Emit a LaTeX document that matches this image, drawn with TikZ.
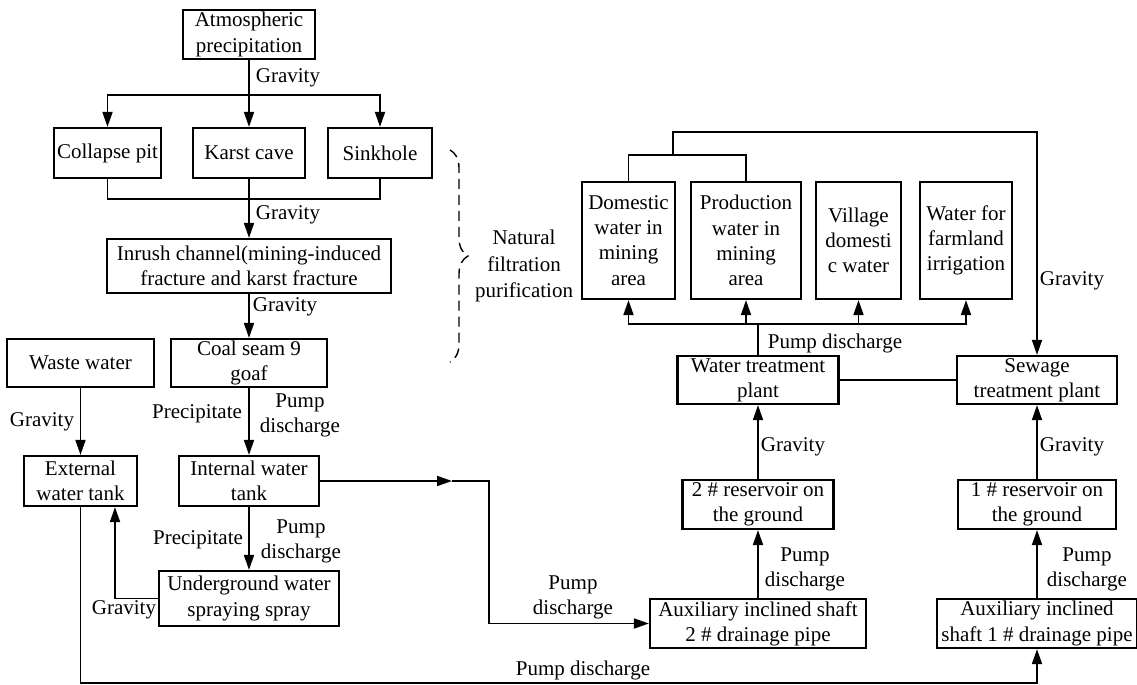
\documentclass[tikz,border=0pt]{standalone}
\usepackage{fontspec}
\setmainfont{LiberationSerif}[Extension=.ttf, UprightFont=*-Regular, BoldFont=*-Bold]
\usetikzlibrary{arrows.meta, calc, decorations.pathreplacing}

\tikzset{
  box/.style={draw, line width=1.1pt, inner xsep=1pt, inner ysep=0pt, align=center, font=\fontsize{10.5}{12.6}\selectfont},
  lbl/.style={inner sep=0pt, align=center, font=\fontsize{10.5}{12.6}\selectfont},
}

\begin{document}
\begin{tikzpicture}[x=0.5pt, y=-0.5pt, line width=0.9pt, >={Triangle[length=7.5pt,width=5pt]}]
        \useasboundingbox (0,0) rectangle (1137,685);

        % left part: precipitation down to the goaf
        \node[box, minimum width=66pt, minimum height=24.5pt] (atm) at (249,34.5) {Atmospheric\\precipitation};
        \node[box, minimum width=53.5pt, minimum height=25pt] (pit) at (107.5,153) {Collapse pit};
        \node[box, minimum width=56pt, minimum height=25pt] (cave) at (249,153) {Karst cave};
        \node[box, minimum width=52pt, minimum height=25pt] (sink) at (380,153) {Sinkhole};
        \node[box, minimum width=142pt, minimum height=27pt] (inrush) at (249,266) {Inrush channel(mining-induced\\fracture and karst fracture};
        \node[box, minimum width=78pt, minimum height=24pt] (coal) at (249,363) {Coal seam 9\\goaf};
        \node[box, minimum width=73.5pt, minimum height=24pt] (waste) at (80.5,363) {Waste water};
        \node[box, minimum width=56.5pt, minimum height=25pt] (ext) at (80.5,481) {External\\water tank};
        \node[box, minimum width=70pt, minimum height=25pt] (int) at (249,481) {Internal water\\tank};
        \node[box, minimum width=90pt, minimum height=27.5pt] (under) at (249,598.5) {Underground water\\spraying spray};

        % right part
        \node[box, minimum width=108pt, minimum height=24.5pt] (aux2) at (758,623.5) {Auxiliary inclined shaft\\2 \# drainage pipe};
        \node[box, minimum width=75.5pt, minimum height=24.5pt] (res2) at (758,504.5) {2 \# reservoir on\\the ground};
        \node[box, minimum width=80.5pt, minimum height=24pt] (wtp) at (758,380) {Water treatment\\plant};
        \node[box, minimum width=80pt, minimum height=24pt] (stp) at (1037,380) {Sewage\\treatment plant};
        \node[box, minimum width=79pt, minimum height=24.5pt] (res1) at (1037,504.5) {1 \# reservoir on\\the ground};
        \node[box, minimum width=100pt, minimum height=24.5pt] (aux1) at (1037,623.5) {Auxiliary inclined\\shaft 1 \# drainage pipe};
        \node[box, minimum width=46.5pt, minimum height=58.5pt] (dom) at (628.5,240.5) {Domestic\\water in\\mining\\area};
        \node[box, minimum width=55pt, minimum height=58.5pt] (prod) at (746,240.5) {Production\\water in\\mining\\area};
        \node[box, minimum width=42.5pt, minimum height=58.5pt] (vil) at (858.5,240.5) {Village\\domesti\\c water};
        \node[box, minimum width=46pt, minimum height=58.5pt] (farm) at (966,240.5) {Water for\\farmland\\irrigation};

        % helper points
        \coordinate (split) at (249,95);
        \coordinate (merge) at (249,199);
        \coordinate (mid) at (452,481);
        \coordinate (bend) at (489,481);
        \coordinate (bl) at (80.5,683);
        \coordinate (dist) at (758,324);
        \coordinate (join) at (673,155);

        % connectors
        \draw (atm) -- (split);
        \draw[->] (split) -| (pit);
        \draw[->] (split) -- (cave);
        \draw[->] (split) -| (sink);
        \draw (pit.south) |- (merge) -| (sink.south);
        \draw[->] (cave) -- (inrush);
        \draw[->] (inrush) -- (coal);
        \draw[->] (coal) -- (int);
        \draw[->] (waste) -- (ext);
        \draw[->] (int) -- (under);
        \draw[->] (under.west) -| ($(ext.south)+(34.5,0)$);
        \draw[->] (int.east) -- (mid);
        \draw[->] (mid) -- (bend) |- (aux2.west);
        \draw[->] (ext.south) -- (bl) -| (aux1.south);
        \draw[->] (aux2) -- (res2);
        \draw[->] (res2) -- (wtp);
        \draw[->] (aux1) -- (res1);
        \draw[->] (res1) -- (stp);
        \draw (wtp) -- (stp);
        \draw (wtp) -- (dist);
        \draw[->] (dist) -| (dom);
        \draw[->] (dist) -| (prod);
        \draw[->] (dist) -| (vil);
        \draw[->] (dist) -| (farm);
        \draw (dom) |- (join) -| (prod);
        \draw[->] (join) -- ++(0,-23) -| (stp);

        % natural filtration brace
        \draw[line width=0.7pt, dash pattern=on 5pt off 3pt, decorate, decoration={brace, amplitude=9pt}] (450,150) -- (450,362);
        \node[lbl, font=\fontsize{10.5}{13.2}\selectfont] (nat) at (524,266) {Natural\\filtration\\purification};

        % labels
        \node[lbl] (g1) at (288,78) {Gravity};
        \node[lbl] (g2) at (288,215) {Gravity};
        \node[lbl] (g3) at (285,307) {Gravity};
        \node[lbl] (g4) at (42,422) {Gravity};
        \node[lbl] (p1) at (197,414) {Precipitate};
        \node[lbl] (d1) at (300,415) {Pump\\discharge};
        \node[lbl] (p2) at (198,540) {Precipitate};
        \node[lbl] (d2) at (301,541) {Pump\\discharge};
        \node[lbl] (g5) at (124,610) {Gravity};
        \node[lbl] (d3) at (573,597) {Pump\\discharge};
        \node[lbl] (d4) at (583,670) {Pump discharge};
        \node[lbl] (d5) at (805,569) {Pump\\discharge};
        \node[lbl] (g6) at (793,447) {Gravity};
        \node[lbl] (d6) at (1087,569) {Pump\\discharge};
        \node[lbl] (g7) at (1072,447) {Gravity};
        \node[lbl] (d7) at (835,343) {Pump discharge};
        \node[lbl] (g8) at (1072,281) {Gravity};
    \end{tikzpicture}
\end{document}
